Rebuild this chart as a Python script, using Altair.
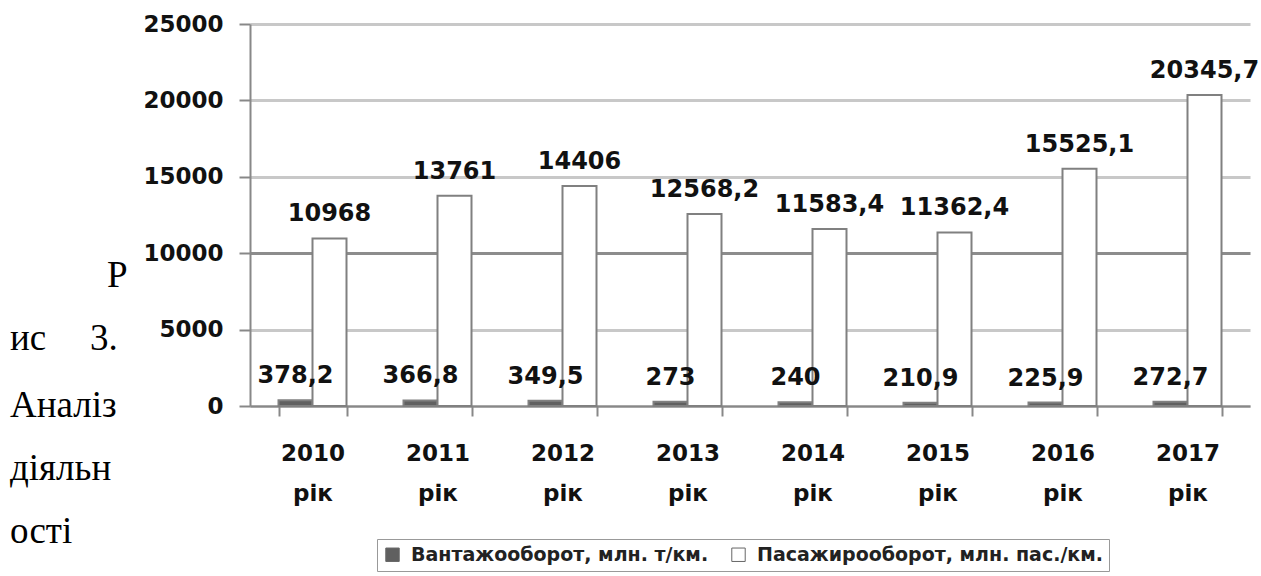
import altair as alt
import pandas as pd

years = ["2010 рік", "2011 рік", "2012 рік", "2013 рік", "2014 рік", "2015 рік", "2016 рік", "2017 рік"]
series_names = ["Вантажооборот, млн. т/км.", "Пасажирооборот, млн. пас./км."]
cargo = [378.2, 366.8, 349.5, 273, 240, 210.9, 225.9, 272.7]
passenger = [10968, 13761, 14406, 12568.2, 11583.4, 11362.4, 15525.1, 20345.7]
y_ticks = [0, 5000, 10000, 15000, 20000, 25000]
side_text = ["Р", "ис", "3.", "Аналіз", "діяльн", "ості"]

rows = []
for yr, c, p in zip(years, cargo, passenger):
    rows.append({"year": yr, "series": series_names[0], "value": c})
    rows.append({"year": yr, "series": series_names[1], "value": p})
df = pd.DataFrame(rows)
df["label"] = df["value"].map(lambda v: f"{v:g}".replace(".", ","))

FONT = "DejaVu Sans"

x_enc = alt.X(
    "year:N",
    sort=years,
    title=None,
    scale=alt.Scale(paddingInner=0.456, paddingOuter=0.228),
    axis=alt.Axis(
        labelAngle=0,
        labelExpr="split(datum.label, ' ')",
        labelFont=FONT,
        labelFontSize=23,
        labelFontWeight="bold",
        labelColor="#111111",
        labelLineHeight=40,
        labelPadding=26,
        labelBaseline="top",
        tickBand="extent",
        tickSize=10,
        tickColor="#888888",
        tickWidth=2,
        domainColor="#888888",
        domainWidth=2,
        grid=False,
    ),
)
y_enc = alt.Y(
    "value:Q",
    title=None,
    scale=alt.Scale(domain=[0, 25000], nice=False),
    axis=alt.Axis(
        values=y_ticks,
        format="d",
        labelFont=FONT,
        labelFontSize=23,
        labelFontWeight="bold",
        labelColor="#111111",
        labelPadding=16,
        tickSize=11,
        tickColor="#888888",
        tickWidth=2,
        domainColor="#888888",
        domainWidth=2,
        grid=True,
        gridWidth=3,
        gridColor={"condition": {"test": "datum.value === 10000", "value": "#8c8c8c"}, "value": "#c8c8c8"},
    ),
)
xoff = alt.XOffset("series:N", sort=series_names, scale=alt.Scale(domain=series_names))

base = alt.Chart(df)
bars = base.mark_bar(stroke="#808080", strokeWidth=2).encode(
    x=x_enc,
    xOffset=xoff,
    y=y_enc,
    color=alt.Color(
        "series:N",
        scale=alt.Scale(domain=series_names, range=["#606060", "#ffffff"]),
        legend=alt.Legend(
            orient="none",
            legendX=127,
            legendY=515,
            direction="horizontal",
            title=None,
            labelFont=FONT,
            labelFontSize=19,
            labelFontWeight="bold",
            labelColor="#222222",
            labelLimit=0,
            labelOffset=9,
            symbolType="square",
            symbolSize=180,
            symbolStrokeColor="#666666",
            symbolStrokeWidth=1,
            strokeColor="#999999",
            fillColor="white",
            padding=6,
            columnPadding=20,
        ),
    ),
)
labels = base.mark_text(
    baseline="alphabetic", dy=-17, font=FONT, fontSize=24, fontWeight="bold", color="#111111"
).encode(x=alt.X("year:N", sort=years), xOffset=xoff, y="value:Q", text="label:N")

side_pos = [(-143, 263), (-240, 326), (-160, 326), (-240, 393), (-240, 456), (-240, 519)]
side_layers = []
for txt, (px, py) in zip(side_text, side_pos):
    side_layers.append(
        alt.Chart(pd.DataFrame({"t": [txt]})).mark_text(
            font="Liberation Serif", fontSize=37, align="left", baseline="alphabetic", color="#000000"
        ).encode(x=alt.value(px), y=alt.value(py), text="t:N")
    )

chart = alt.layer(bars, labels, *side_layers).properties(
    width=1000,
    height=382,
    autosize=alt.AutoSizeParams(type="none"),
    padding={"left": 250, "top": 24, "right": 11, "bottom": 170},
).configure_view(stroke=None)

chart.save("out.html", embed_options={"renderer": "svg", "actions": False})
